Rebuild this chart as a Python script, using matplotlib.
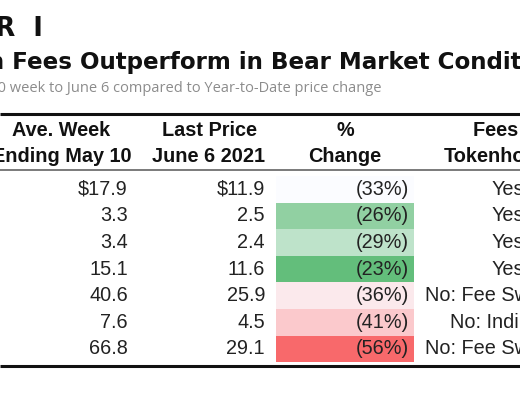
import matplotlib
matplotlib.use("Agg")
import matplotlib.pyplot as plt
from matplotlib.colors import LinearSegmentedColormap
import numpy as np

# table data
header_top = ["Ave. Week", "Last Price", "%", "Fees to"]
header_bottom = ["Ending May 10", "June 6 2021", "Change", "Tokenholders"]
avg_week = ["$17.9", "3.3", "3.4", "15.1", "40.6", "7.6", "66.8"]
last_price = ["$11.9", "2.5", "2.4", "11.6", "25.9", "4.5", "29.1"]
pct_change = [-33, -26, -29, -23, -36, -41, -56]
fees_to_holders = ["Yes", "Yes", "Yes", "Yes", "No: Fee Switch Off", "No: Indirectly", "No: Fee Switch Off"]

title_lead = "Tokens That Return "
title = title_lead + "Fees Outperform in Bear Market Conditions"
subtitle = "Average price in May 10 week to June 6 compared to Year-to-Date price change"

W, H = 520, 400
fig = plt.figure(figsize=(W / 100, H / 100), dpi=100)
ax = fig.add_axes([0, 0, 1, 1])
ax.set_xlim(0, W)
ax.set_ylim(H, 0)
ax.axis("off")

tbl_font = "Liberation Sans"
fs = 14.3

# excel style 3-colour scale: red (min) - white (median) - green (max)
vals = np.array(pct_change, dtype=float)
lo, mid, hi = vals.min(), np.median(vals), vals.max()
cmap = LinearSegmentedColormap.from_list(
    "scale", [(0, "#F8696B"), ((mid - lo) / (hi - lo), "#FCFCFF"), (1, "#63BE7B")])
cell_colors = [cmap((v - lo) / (hi - lo)) for v in vals]

row_h = 26.6
first_top = 176
rows_y = first_top + row_h * (np.arange(len(pct_change)) + 0.5)

ax.barh(rows_y, 138, left=276, height=row_h, color=cell_colors, zorder=1)

# heading (the original picture is a crop, so the heading runs off the edges)
ax.text(43, 29, "M  E  S  S  A  R  I", ha="right", va="center", fontsize=18.5,
        fontweight="bold", family="DejaVu Sans", color="#111111")

title_kw = dict(fontsize=16.6, fontweight="bold", family="DejaVu Sans", color="#111111")
renderer = fig.canvas.get_renderer()
probe = ax.text(0, 0, title_lead.strip() + " ", **title_kw)
lead_w = probe.get_window_extent(renderer).width
probe.remove()
ax.text(12 - lead_w, 63, title, ha="left", va="center", **title_kw)

ax.text(381, 89, subtitle, ha="right", va="center", fontsize=10.5,
        family="Open Sans", color="#8c8c8c")

# rules
ax.plot([0, W], [114, 114], color="#111111", lw=2.2, solid_capstyle="butt")
ax.plot([0, W], [169.5, 169.5], color="#707070", lw=1.3, solid_capstyle="butt")
ax.plot([0, W], [366, 366], color="#111111", lw=2.2, solid_capstyle="butt")

col_centers = [61.5, 209, 345, 508]
for cx, t1, t2 in zip(col_centers, header_top, header_bottom):
    ax.text(cx, 130, t1, ha="center", va="center", fontsize=fs,
            fontweight="bold", family=tbl_font, color="#111111")
    ax.text(cx, 156, t2, ha="center", va="center", fontsize=fs,
            fontweight="bold", family=tbl_font, color="#111111")

for y, a, b, p, f in zip(rows_y, avg_week, last_price, pct_change, fees_to_holders):
    ax.text(128, y, a, ha="right", va="center", fontsize=fs, family=tbl_font, color="#222222")
    ax.text(265, y, b, ha="right", va="center", fontsize=fs, family=tbl_font, color="#222222")
    ax.text(409, y, f"({abs(p)}%)", ha="right", va="center", fontsize=fs,
            family=tbl_font, color="#222222", zorder=3)
    ax.text(508, y, f, ha="center", va="center", fontsize=fs, family=tbl_font, color="#222222")

fig.savefig("out.png", dpi=100, facecolor="white")
